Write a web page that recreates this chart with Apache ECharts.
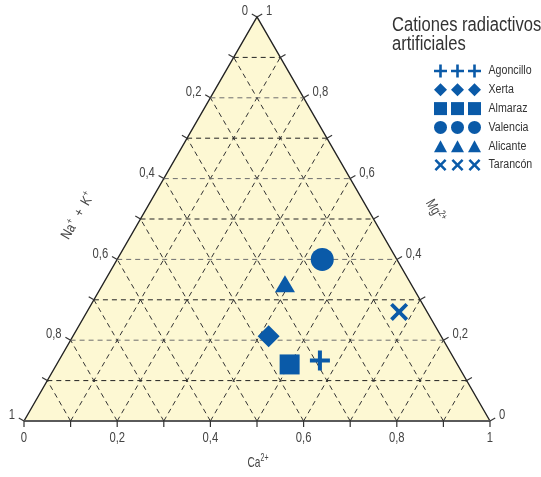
<!DOCTYPE html>
<html>
<head>
<meta charset="utf-8">
<script src="https://cdn.jsdelivr.net/npm/echarts@6/dist/echarts.min.js"></script>
<style>
html,body{margin:0;padding:0;background:#fff;}
#chart{width:541px;height:477px;}
</style>
</head>
<body>
<div id="chart"></div>
<script>
// ---- data ----
const sites = ['Agoncillo', 'Xerta', 'Almaraz', 'Valencia', 'Alicante', 'Tarancón'];
const caValues = [0.56, 0.42, 0.50, 0.44, 0.39, 0.67];   // Ca2+
const mgValues = [0.15, 0.21, 0.14, 0.40, 0.34, 0.27];   // Mg2+
const naKValues = [0.29, 0.37, 0.36, 0.16, 0.27, 0.06];  // Na+ + K+
const tickValues = [0, 0.1, 0.2, 0.3, 0.4, 0.5, 0.6, 0.7, 0.8, 0.9, 1];
const tickLabels = ['0', '', '0,2', '', '0,4', '', '0,6', '', '0,8', '', '1'];
const legendTitle = ['Cationes radiactivos', 'artificiales'];

// ---- styling ----
const BLUE = '#0a5aa8';
const FONT = "'Liberation Sans', Arial, sans-serif";
const SX = 0.75; // condensed look
const H = Math.sqrt(3) / 2;
const PLUS = 'path://M4,0h2v4h4v2h-4v4h-2v-4h-4v-2h4z';
const CROSS = 'path://M0,1.5L1.5,0L5,3.5L8.5,0L10,1.5L6.5,5L10,8.5L8.5,10L5,6.5L1.5,10L0,8.5L3.5,5Z';
const symbols = [PLUS, 'diamond', 'rect', 'circle', 'triangle', CROSS];
const symbolSizes = [20, 22, 20, 23, [20, 17], 18];
const legendSizes = [13, 13, 13, 13, [13, 12], 12];

// ternary (Ca, Mg) -> cartesian
function tern(ca, mg) { return [ca + mg / 2, mg * H]; }

const series = [];

// triangle fill + edges
series.push({
  type: 'custom', xAxisIndex: 0, yAxisIndex: 0, silent: true, z: 1,
  data: [[0, 0]],
  renderItem: function (params, api) {
    const a = api.coord(tern(0, 0)), b = api.coord(tern(1, 0)), c = api.coord(tern(0, 1));
    return {
      type: 'group', children: [
        { type: 'polygon', shape: { points: [a, b, c] }, style: { fill: '#fdf8d3', stroke: null } },
        { type: 'polyline', shape: { points: [a, c, b] }, style: { stroke: '#222', lineWidth: 1.4, fill: null } },
        { type: 'line', shape: { x1: a[0], y1: a[1], x2: b[0], y2: b[1] }, style: { stroke: '#5a5a5a', lineWidth: 2.2 } }
      ]
    };
  }
});

// dashed grid lines
for (let i = 1; i < tickValues.length - 1; i++) {
  const t = tickValues[i];
  const hcol = (i % 2 === 0) ? '#6e6e6e' : '#222';
  const lines = [
    [[tern(0, t), tern(1 - t, t)], hcol],          // constant Mg
    [[tern(t, 0), tern(t, 1 - t)], '#333'],        // constant Ca
    [[tern(1 - t, 0), tern(0, 1 - t)], '#333']     // constant Na+K
  ];
  lines.forEach(function (ln) {
    series.push({
      type: 'line', xAxisIndex: 0, yAxisIndex: 0, silent: true, z: 2,
      data: ln[0], symbol: 'none',
      lineStyle: { color: ln[1], width: 1, type: [5, 4] }
    });
  });
}

// ticks and tick labels
series.push({
  type: 'custom', xAxisIndex: 0, yAxisIndex: 0, silent: true, z: 3,
  data: tickValues.map(function (v, i) { return [v, i]; }),
  renderItem: function (params, api) {
    const t = api.value(0), idx = api.value(1);
    const L = 6;
    const lbl = tickLabels[idx];
    const bottom = api.coord(tern(t, 0));
    const left = api.coord(tern(0, 1 - t));
    const right = api.coord(tern(1 - t, t));
    const ts = { fill: '#444', font: '15px ' + FONT };
    const ch = [
      { type: 'line', shape: { x1: bottom[0], y1: bottom[1], x2: bottom[0], y2: bottom[1] + L }, style: { stroke: '#333', lineWidth: 1.2 } },
      { type: 'line', shape: { x1: left[0], y1: left[1], x2: left[0] - L * 0.866, y2: left[1] - L * 0.5 }, style: { stroke: '#333', lineWidth: 1.2 } },
      { type: 'line', shape: { x1: right[0], y1: right[1], x2: right[0] + L * 0.866, y2: right[1] - L * 0.5 }, style: { stroke: '#333', lineWidth: 1.2 } }
    ];
    if (lbl) {
      ch.push({ type: 'text', x: bottom[0], y: bottom[1] + 17, scaleX: SX, style: Object.assign({ text: lbl, align: 'center', verticalAlign: 'middle' }, ts) });
      ch.push({ type: 'text', x: left[0] - 9, y: left[1] - 6, scaleX: SX, style: Object.assign({ text: lbl, align: 'right', verticalAlign: 'middle' }, ts) });
      ch.push({ type: 'text', x: right[0] + 9, y: right[1] - 6, scaleX: SX, style: Object.assign({ text: lbl, align: 'left', verticalAlign: 'middle' }, ts) });
    }
    return { type: 'group', children: ch };
  }
});

// data points
sites.forEach(function (s, i) {
  series.push({
    name: s, type: 'scatter', xAxisIndex: 0, yAxisIndex: 0, z: 5,
    symbol: symbols[i], symbolSize: symbolSizes[i],
    itemStyle: { color: BLUE, opacity: 1 },
    data: [tern(caValues[i], mgValues[i])]
  });
});

// legend markers (three per site)
sites.forEach(function (s, i) {
  series.push({
    type: 'scatter', xAxisIndex: 1, yAxisIndex: 1, silent: true, z: 5,
    symbol: symbols[i], symbolSize: legendSizes[i],
    itemStyle: { color: BLUE, opacity: 1 },
    data: [[0, s], [1, s], [2, s]]
  });
});

// legend labels
series.push({
  type: 'custom', xAxisIndex: 1, yAxisIndex: 1, silent: true, z: 5,
  data: sites.map(function (s) { return [2, s]; }),
  renderItem: function (params, api) {
    const p = api.coord([api.value(0), api.value(1)]);
    return {
      type: 'text', x: p[0] + 14, y: p[1], scaleX: 0.85,
      style: { text: sites[params.dataIndex], align: 'left', verticalAlign: 'middle', fill: '#333', font: '12.5px ' + FONT }
    };
  }
});

const supStyle = { fontSize: 10, fontFamily: FONT, fill: '#444', padding: [0, 0, 9, 0] };
const titleRich = { base: { fontSize: 14.5, fontFamily: FONT, fill: '#444' }, sup: supStyle };

const option = {
  animation: false,
  backgroundColor: '#fff',
  grid: [
    { left: 24, right: 51, top: 17, bottom: 56 },
    { left: 432, right: 58, top: 61.6, height: 112.8 }
  ],
  xAxis: [
    { type: 'value', min: 0, max: 1, show: false, gridIndex: 0 },
    { type: 'value', min: -0.5, max: 2.5, show: false, gridIndex: 1 }
  ],
  yAxis: [
    { type: 'value', min: 0, max: H, show: false, gridIndex: 0 },
    { type: 'category', data: sites, inverse: true, gridIndex: 1, show: false }
  ],
  graphic: [
    { type: 'text', x: 392, y: 16, scaleX: 0.85, style: { text: legendTitle.join('\n'), font: '19.5px ' + FONT, fill: '#333', lineHeight: 19, verticalAlign: 'top' } },
    { type: 'text', x: 258, y: 463, scaleX: 0.7, style: { text: '{base|Ca}{sup|2+}', rich: titleRich, align: 'center', verticalAlign: 'middle' } },
    { type: 'text', x: 78, y: 216, rotation: Math.PI / 3, scaleX: 0.8, style: { text: '{base|Na}{sup|+}{base|  +  K}{sup|+}', rich: titleRich, align: 'center', verticalAlign: 'middle' } },
    { type: 'text', x: 435, y: 211, rotation: -Math.PI / 3, scaleX: 0.75, style: { text: '{base|Mg}{sup|2+}', rich: titleRich, align: 'center', verticalAlign: 'middle' } }
  ],
  series: series
};

const chart = echarts.init(document.getElementById('chart'), null, { renderer: 'canvas' });
chart.setOption(option);
</script>
</body>
</html>
